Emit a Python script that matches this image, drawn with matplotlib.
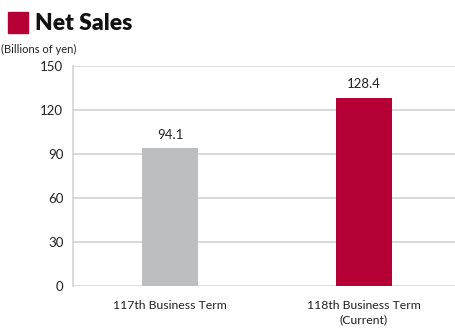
import matplotlib.pyplot as plt
from matplotlib.patches import Rectangle

# Net sales by business term (billions of yen)
terms = ['117th Business Term', '118th Business Term\n(Current)']
sales = [94.1, 128.4]
colors = ['#BCBEC0', '#B40034']
yticks = [0, 30, 60, 90, 120, 150]

plt.rcParams['font.family'] = ['Lato', 'DejaVu Sans']

fig = plt.figure(figsize=(4.56, 3.33), dpi=100)
ax = fig.add_axes([73 / 456, 47 / 333, 1 - 73 / 456, 220 / 333])

x = list(range(len(terms)))
bars = ax.bar(x, sales, width=0.285, color=colors, zorder=3)
for b, v in zip(bars, sales):
    ax.text(b.get_x() + b.get_width() / 2, v + 5, f'{v:.1f}',
            ha='center', va='bottom', fontsize=9.5, color='#222222')

ax.set_xlim(-0.5, 1.474)
ax.set_ylim(0, 150)
ax.set_yticks(yticks)
ax.set_xticks(x)
ax.set_xticklabels(terms, fontsize=8.8, color='#222222', linespacing=1.35)
ax.tick_params(axis='y', labelsize=9.5, colors='#222222', length=0, pad=7)
ax.tick_params(axis='x', length=0, pad=10)
ax.grid(axis='y', color='#D4D4D4', linewidth=1.2, zorder=0)
for s in ['top', 'right', 'bottom']:
    ax.spines[s].set_visible(False)
ax.spines['left'].set_color('#D4D4D4')
ax.spines['left'].set_linewidth(1.2)

# heading with a red square marker
fig.patches.append(Rectangle((8 / 456, 1 - 33 / 333), 20 / 456, 21 / 333,
                             transform=fig.transFigure, color='#B40034'))
fig.text(35 / 456, 1 - 23 / 333, 'Net Sales', fontsize=16.5, fontweight='heavy',
         va='center', ha='left', color='#111111')
fig.text(1 / 456, 1 - 49 / 333, '(Billions of yen)', fontsize=8,
         va='center', ha='left', color='#222222')

fig.savefig('out.png', dpi=100)
